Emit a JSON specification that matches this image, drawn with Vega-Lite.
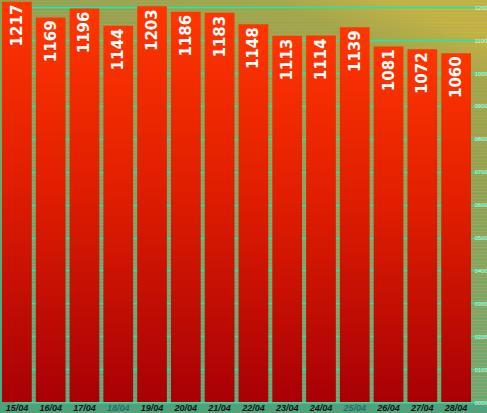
{
  "$schema": "https://vega.github.io/schema/vega-lite/v6.json",
  "width": 487,
  "height": 402,
  "autosize": "none",
  "padding": {"left": 0, "top": 0, "right": 0, "bottom": 11},
  "background": "#4fa27c",
  "config": {
    "view": {
      "stroke": null,
      "fill": {
        "gradient": "linear",
        "x1": 0.35, "y1": 1, "x2": 0.8, "y2": 0,
        "stops": [
          {"offset": 0, "color": "#46ac84"},
          {"offset": 0.4, "color": "#6eaa68"},
          {"offset": 0.7, "color": "#8aa44c"},
          {"offset": 0.9, "color": "#9ea842"},
          {"offset": 1, "color": "#c8b838"}
        ]
      }
    }
  },
  "data": {
    "values": [
      {"date": "15/04", "value": 1217},
      {"date": "16/04", "value": 1169},
      {"date": "17/04", "value": 1196},
      {"date": "18/04", "value": 1144},
      {"date": "19/04", "value": 1203},
      {"date": "20/04", "value": 1186},
      {"date": "21/04", "value": 1183},
      {"date": "22/04", "value": 1148},
      {"date": "23/04", "value": 1113},
      {"date": "24/04", "value": 1114},
      {"date": "25/04", "value": 1139},
      {"date": "26/04", "value": 1081},
      {"date": "27/04", "value": 1072},
      {"date": "28/04", "value": 1060}
    ]
  },
  "encoding": {
    "x": {
      "field": "date",
      "type": "ordinal",
      "sort": null,
      "scale": {"paddingInner": 0.12, "paddingOuter": 0.06, "range": [0, 473]},
      "axis": {
        "title": null,
        "domain": false,
        "ticks": false,
        "labelAngle": 0,
        "labelPadding": 1,
        "labelFont": "Liberation Sans",
        "labelFontStyle": "italic",
        "labelFontWeight": "bold",
        "labelFontSize": 9,
        "labelColor": {
          "condition": {"test": "datum.value == '18/04' || datum.value == '25/04'", "value": "#2b6a6a"},
          "value": "#111111"
        }
      }
    },
    "y": {
      "field": "value",
      "type": "quantitative",
      "scale": {"domain": [0, 1222], "nice": false},
      "axis": {
        "orient": "right",
        "offset": -13,
        "title": null,
        "tickCount": 120,
        "labelOverlap": false,
        "labelExpr": "datum.value % 100 != 0 ? '' : (datum.value == 0 ? '0000' : (datum.value < 1000 ? '0' + datum.label : replace(datum.label, ',', '')))",
        "domain": false,
        "ticks": false,
        "zindex": 0,
        "labelPadding": 0,
        "labelFontSize": 5.8,
        "labelColor": "#e4f2d8",
        "grid": true,
        "gridColor": {
          "condition": {"test": "datum.value % 100 == 0", "value": "#36dca0"},
          "value": "#b8a070"
        },
        "gridWidth": {
          "condition": {"test": "datum.value % 100 == 0", "value": 2},
          "value": 1.5
        },
        "gridOpacity": {
          "condition": {"test": "datum.value % 100 == 0", "value": 1},
          "value": 0.55
        }
      }
    }
  },
  "layer": [
    {
      "mark": {
        "type": "bar",
        "color": {
          "gradient": "linear",
          "x1": 0, "y1": 0, "x2": 0, "y2": 1,
          "stops": [
            {"offset": 0, "color": "#ff3600"},
            {"offset": 0.45, "color": "#e01e00"},
            {"offset": 1, "color": "#a80006"}
          ]
        }
      }
    },
    {
      "mark": {
        "type": "text",
        "angle": 270,
        "align": "right",
        "baseline": "middle",
        "yOffset": 3,
        "color": "#ffffff",
        "font": "DejaVu Sans",
        "fontWeight": "bold",
        "fontSize": 15
      },
      "encoding": {
        "text": {"field": "value", "type": "quantitative"}
      }
    }
  ]
}
